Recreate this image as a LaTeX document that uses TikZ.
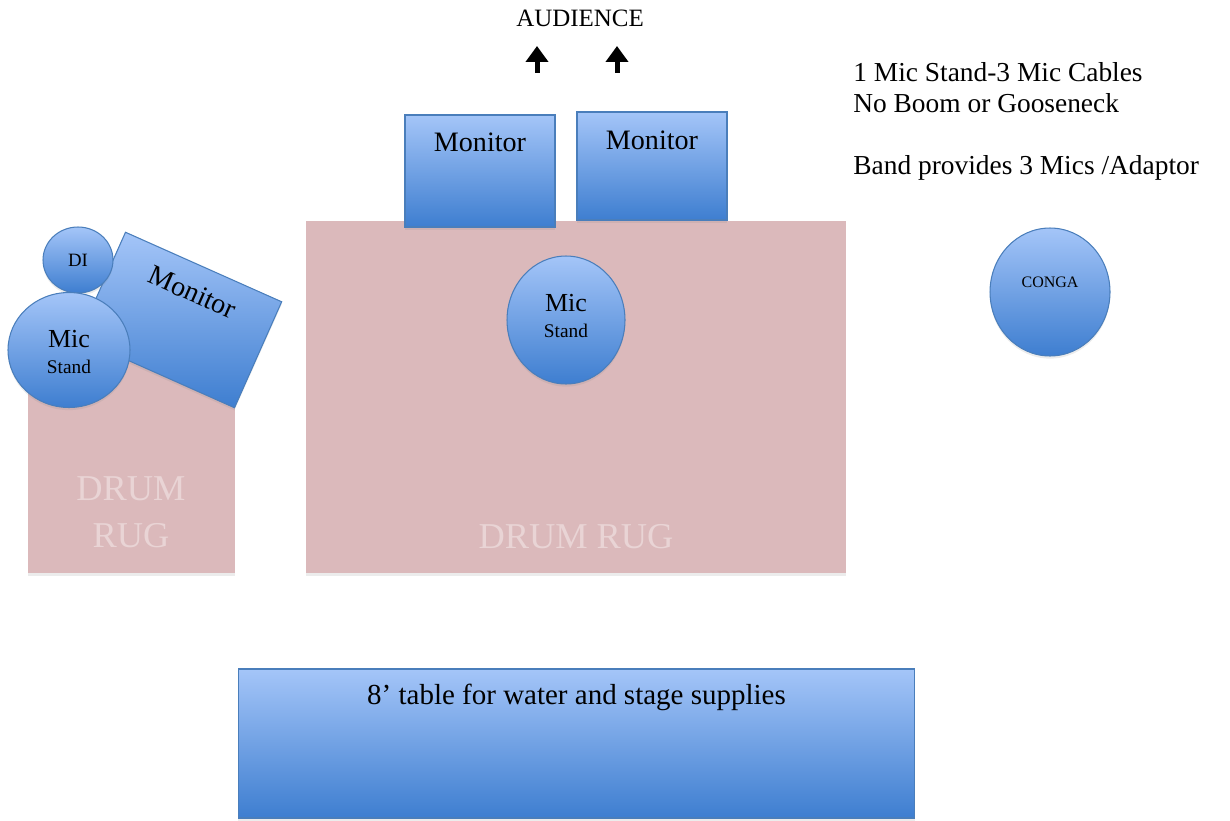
\documentclass[tikz,border=0pt]{standalone}
\usepackage{fontspec}
\setmainfont{Liberation Serif}
\usetikzlibrary{arrows.meta,calc,shapes.geometric,shadows}
\definecolor{colorrug}{HTML}{DBB9BB}
\definecolor{colorrugtext}{HTML}{E9D4D5}
\definecolor{colortop}{HTML}{A4C5F8}
\definecolor{colorbottom}{HTML}{3E7ED0}
\definecolor{colorborder}{HTML}{4A7EBB}

\begin{document}
\begin{tikzpicture}
    [x=0.02cm, y=-0.02cm,  % one unit = one pixel of the plan
     >={Triangle[width=0.44cm,length=0.32cm]},  % Thick audience arrows
     softshadow/.style={drop shadow={shadow xshift=0pt, shadow yshift=-1.5pt, opacity=0.15}},
     bluebox/.style={top color=colortop, bottom color=colorbottom, draw=colorborder, line width=0.6pt, inner sep=0pt, softshadow},
     rugbox/.style={fill=colorrug, draw=none, inner sep=0pt, softshadow},
     rugtext/.style={text=colorrugtext, font=\fontsize{20.7}{26.6}\selectfont, align=center},
     boxtext/.style={font=\fontsize{16}{19}\selectfont},
     mictext/.style={font=\fontsize{14.8}{15}\selectfont, align=center},
    ]
\useasboundingbox (0,0) rectangle (1230,821);

% rugs
\node[rugbox, minimum width=10.8cm, minimum height=7.04cm] (node_rug_main) at (576,397) {};
\node[rugbox, minimum width=4.14cm, minimum height=4.26cm] (node_rug_side) at (131.5,466.5) {};
\node[rugtext] (node_rug_main_text) at (576,537) {DRUM RUG};
\node[rugtext] (node_rug_side_text) at (131,512) {DRUM\\RUG};

% front monitors
\node[bluebox, minimum width=3cm, minimum height=2.24cm] (node_monitor_a) at (480,171) {};
\node[bluebox, minimum width=3cm, minimum height=2.16cm] (node_monitor_b) at (652,166) {};
\node[boxtext] (node_monitor_a_text) at ($(node_monitor_a.center)!0.5!(node_monitor_a.north)$) {Monitor};
\node[boxtext] (node_monitor_b_text) at ($(node_monitor_b.center)!0.48!(node_monitor_b.north)$) {Monitor};

% side monitor, DI and mic
\node[bluebox, rotate=-24, minimum width=3.42cm, minimum height=2.32cm] (node_monitor_c) at (180,320) {};
\node[boxtext, rotate=-24] (node_monitor_c_text) at ($(node_monitor_c.center)!0.52!(node_monitor_c.north)$) {Monitor};
\node[bluebox, ellipse, minimum width=1.4cm, minimum height=1.32cm, font=\fontsize{10.7}{12}\selectfont] (node_di) at (78,260) {DI};
\node[bluebox, ellipse, minimum width=2.44cm, minimum height=2.3cm] (node_mic_side) at (69,350) {};
\node[mictext] (node_mic_side_text) at ($(node_mic_side.center)+(0,2)$) {Mic\\{\fontsize{11}{15}\selectfont Stand}};

% centre mic and conga
\node[bluebox, ellipse, minimum width=2.36cm, minimum height=2.56cm] (node_mic_main) at (566,320) {};
\node[mictext] (node_mic_main_text) at ($(node_mic_main.center)+(0,-4)$) {Mic\\{\fontsize{11}{15}\selectfont Stand}};
\node[bluebox, ellipse, minimum width=2.4cm, minimum height=2.56cm] (node_conga) at (1050,292) {};
\node[font=\fontsize{9.1}{11}\selectfont] (node_conga_text) at ($(node_conga.center)+(0,-10)$) {CONGA};

% table
\node[bluebox, minimum width=13.54cm, minimum height=2.98cm] (node_table) at (576.5,743.5) {};
\node[font=\fontsize{16.5}{19}\selectfont] (node_table_text) at ($(node_table.center)!0.62!(node_table.north)$) {8’ table for water and stage supplies};

% audience
\node[font=\fontsize{14.2}{17}\selectfont] (node_audience) at (580,18) {AUDIENCE};
\coordinate (arrow_a_tail) at (537,73);
\coordinate (arrow_a_head) at (537,46);
\coordinate (arrow_b_tail) at (617,73);
\coordinate (arrow_b_head) at (617,46);
\draw[->, line width=0.1cm] (arrow_a_tail) -- (arrow_a_head);
\draw[->, line width=0.1cm] (arrow_b_tail) -- (arrow_b_head);

% notes
\node[anchor=north west, align=left, inner sep=0pt, font=\fontsize{15.6}{17.6}\selectfont] (node_notes) at (853,62) {1 Mic Stand-3 Mic Cables\\No Boom or Gooseneck\\[17.6pt]Band provides 3 Mics /Adaptor};

\end{tikzpicture}
\end{document}
